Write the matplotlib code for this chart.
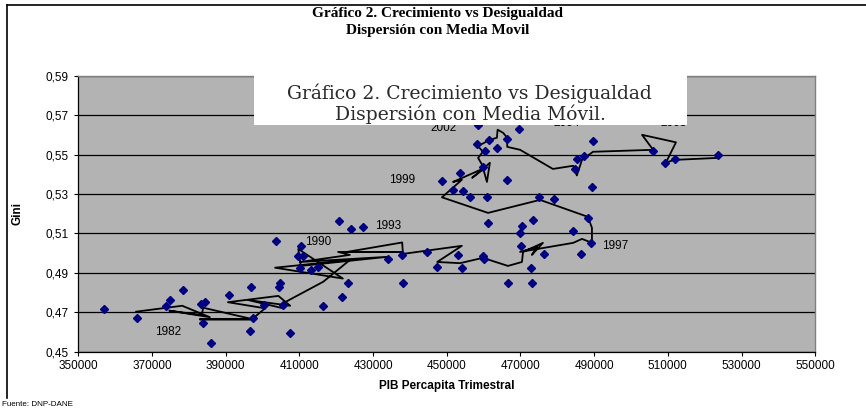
import matplotlib
matplotlib.use("Agg")
import matplotlib.pyplot as plt
from matplotlib.patches import Rectangle
from matplotlib.lines import Line2D
from matplotlib.ticker import FuncFormatter

# scatter: PIB percapita trimestral vs Gini
pib = [357000, 365900, 373800, 374900, 378300, 383200, 384500, 383900, 385900, 390800,
       396800, 396600, 397500, 400500, 403700, 404700, 404500, 405600, 407500, 409600,
       410900, 410500, 410200, 413200, 415100, 416500, 420800, 421700, 423300, 424000,
       427200, 434000, 437800, 438000, 444600, 447300, 453000, 454100, 459900, 460100,
       461300, 466700, 469900, 470500, 473500, 470200, 472900, 473100, 476500, 484300,
       486400, 488300, 489200, 489400, 475100, 479100, 466400, 460800, 456300, 454300,
       451800, 448600, 453600, 459700, 460400, 458300, 461500, 463700, 466400, 458400,
       469700, 485300, 487300, 484800, 489600, 506100, 509300, 511900, 523700]
gini = [0.4715, 0.4670, 0.4733, 0.4762, 0.4813, 0.4741, 0.4751, 0.4644, 0.4546, 0.4788,
        0.4827, 0.4605, 0.4670, 0.4737, 0.5060, 0.4850, 0.4827, 0.4736, 0.4593, 0.4987,
        0.4987, 0.5035, 0.4926, 0.4915, 0.4931, 0.4732, 0.5165, 0.4778, 0.4849, 0.5121,
        0.5131, 0.4969, 0.4991, 0.4849, 0.5005, 0.4928, 0.4991, 0.4923, 0.4986, 0.4969,
        0.5152, 0.4850, 0.5101, 0.5135, 0.5169, 0.5037, 0.4923, 0.4849, 0.4996, 0.5111,
        0.4996, 0.5177, 0.5050, 0.5335, 0.5284, 0.5275, 0.5372, 0.5284, 0.5284, 0.5317,
        0.5321, 0.5366, 0.5406, 0.5439, 0.5519, 0.5553, 0.5575, 0.5532, 0.5578, 0.5651,
        0.5629, 0.5477, 0.5493, 0.5426, 0.5571, 0.5519, 0.5459, 0.5477, 0.5497]

# moving average path (media movil)
ma_pib = [365700, 378200, 385700, 374700, 383500, 383900, 397500, 383000, 397100, 400700,
          390600, 404300, 407500, 396100, 405600, 405600, 416500, 423700, 403400, 421800,
          409700, 410400, 433800, 410200, 423700, 420500, 437900, 422900, 437900, 438100,
          454100, 447400, 453600, 459800, 466600, 470400, 470700, 476100, 473100, 474500,
          469900, 484300, 486700, 489400, 489400, 488300, 475300, 461200, 448700, 454100,
          451700, 460400, 456900, 461700, 460900, 459600, 458500, 459800, 458200, 459600,
          461700, 463600, 463800, 465300, 466400, 466400, 469900, 478800, 484300, 485300,
          486700, 489700, 506000, 503000, 512200, 509500, 511900, 523600]
ma_gini = [0.4703, 0.4733, 0.4675, 0.4708, 0.4686, 0.4723, 0.4664, 0.4664, 0.4664, 0.4720,
           0.4751, 0.4783, 0.4733, 0.4762, 0.4720, 0.4746, 0.4855, 0.4965, 0.4926, 0.4871,
           0.5021, 0.4935, 0.4981, 0.4955, 0.4991, 0.5006, 0.5006, 0.5006, 0.5054, 0.4996,
           0.5037, 0.4955, 0.4949, 0.4976, 0.4935, 0.4955, 0.5006, 0.5052, 0.4991, 0.5031,
           0.5006, 0.5052, 0.5072, 0.5052, 0.5128, 0.5184, 0.5270, 0.5204, 0.5283, 0.5372,
           0.5361, 0.5433, 0.5382, 0.5458, 0.5361, 0.5448, 0.5483, 0.5514, 0.5549, 0.5554,
           0.5575, 0.5585, 0.5626, 0.5610, 0.5585, 0.5539, 0.5524, 0.5427, 0.5443, 0.5394,
           0.5473, 0.5514, 0.5524, 0.5600, 0.5562, 0.5460, 0.5473, 0.5483]

# year labels
years = ["1982", "1990", "1993", "1997", "1999", "2002", "2004", "2008"]
year_x = [374400, 415100, 434100, 495700, 437800, 449100, 482600, 511500]
year_y = [0.4602, 0.5058, 0.5140, 0.5035, 0.5372, 0.5634, 0.5659, 0.5659]

x_ticks = list(range(350000, 550001, 20000))
y_ticks = [0.45, 0.47, 0.49, 0.51, 0.53, 0.55, 0.57, 0.59]

plt.rcParams["font.family"] = ["Liberation Sans", "DejaVu Sans"]

fig = plt.figure(figsize=(8.66, 4.12), dpi=100)
ax = fig.add_axes([0.0904, 0.1464, 0.8510, 0.6699])
ax.set_facecolor("#b3b3b3")

ax.plot(ma_pib, ma_gini, color="black", lw=1.3, zorder=3)
ax.plot(pib, gini, linestyle="none", marker="D", ms=4.3, color="#000080", zorder=4)

for yr, xx, yy in zip(years, year_x, year_y):
    ax.text(xx, yy, yr, fontsize=8.5, ha="center", va="center", zorder=5)

ax.set_xlim(350000, 550000)
ax.set_ylim(0.45, 0.59)
ax.set_xticks(x_ticks)
ax.set_yticks(y_ticks)
ax.yaxis.set_major_formatter(FuncFormatter(lambda v, p: f"{v:.2f}".replace(".", ",")))
ax.tick_params(axis="both", labelsize=8.5, length=3, width=0.8, direction="out")
ax.tick_params(axis="x", pad=3)
ax.tick_params(axis="y", pad=4)
ax.grid(axis="y", color="black", lw=0.9)
ax.set_axisbelow(True)
for side in ["left", "bottom"]:
    ax.spines[side].set_color("black")
    ax.spines[side].set_linewidth(0.9)
for side in ["top", "right"]:
    ax.spines[side].set_color("#808080")
    ax.spines[side].set_linewidth(1.0)

ax.set_xlabel("PIB Percapita Trimestral", fontsize=8.5, fontweight="bold", labelpad=6)
ax.set_ylabel("Gini", fontsize=8.5, fontweight="bold", labelpad=16)

# chart title
fig.text(0.505, 0.968, "Gráfico 2. Crecimiento vs Desigualdad", ha="center", va="center",
         fontsize=11, fontweight="bold", family="Liberation Serif")
fig.text(0.505, 0.925, "Dispersión con Media Movil", ha="center", va="center",
         fontsize=11, fontweight="bold", family="Liberation Serif")

# pasted white title box
box = Rectangle((254 / 866, 1 - 125 / 412), 433 / 866, 59 / 412, transform=fig.transFigure,
                facecolor="white", edgecolor="none", zorder=10)
fig.add_artist(box)
fig.text(469 / 866, 1 - 93 / 412, "Gráfico 2. Crecimiento vs Desigualdad", ha="center",
         va="center", fontsize=13.5, family="DejaVu Serif", color="#2a2a2a", zorder=11)
fig.text(470 / 866, 1 - 114 / 412, "Dispersión con Media Móvil.", ha="center",
         va="center", fontsize=13.5, family="DejaVu Serif", color="#2a2a2a", zorder=11)

# outer frame
fig.add_artist(Line2D([7 / 866, 1.0], [1 - 5 / 412, 1 - 5 / 412], transform=fig.transFigure,
                      color="black", lw=1.2))
fig.add_artist(Line2D([7 / 866, 7 / 866], [1 - 5 / 412, 1 - 398 / 412], transform=fig.transFigure,
                      color="black", lw=1.2))

fig.text(2 / 866, 1 - 404 / 412, "Fuente: DNP-DANE", ha="left", va="center", fontsize=5.8)

fig.savefig("out.png", dpi=100)
